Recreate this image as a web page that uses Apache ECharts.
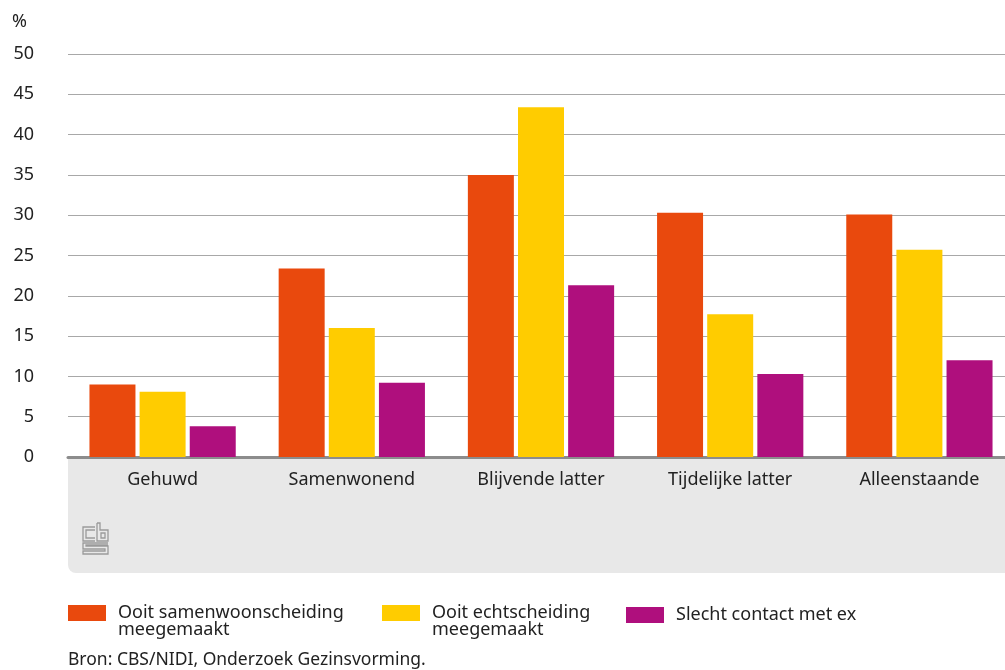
<!DOCTYPE html>
<html>
<head>
<meta charset="utf-8">
<script src="https://cdn.jsdelivr.net/npm/echarts@6/dist/echarts.min.js"></script>
<style>html,body{margin:0;padding:0;background:#fff;}#c{width:1005px;height:670px;}</style>
</head>
<body>
<div id="c"></div>
<script>
const categories = ['Gehuwd', 'Samenwonend', 'Blijvende latter', 'Tijdelijke latter', 'Alleenstaande'];
const seriesNames = ['Ooit samenwoonscheiding meegemaakt', 'Ooit echtscheiding meegemaakt', 'Slecht contact met ex'];
const legendLine1 = ['Ooit samenwoonscheiding', 'Ooit echtscheiding', 'Slecht contact met ex'];
const legendLine2 = ['meegemaakt', 'meegemaakt', ''];
const samenwoonscheiding = [9.0, 23.4, 35.0, 30.3, 30.1];
const echtscheiding = [8.1, 16.0, 43.4, 17.7, 25.7];
const slechtContact = [3.8, 9.2, 21.3, 10.3, 12.0];
const colors = ['#e9490d', '#ffcc00', '#af0f7d'];
const FONT = 'Noto Sans';
const FS = 18;

const chart = echarts.init(document.getElementById('c'), null, {renderer: 'canvas'});
const g = '#9a9a9a';
function pl(points){ return {type:'polyline', z:-5, shape:{points}, style:{stroke:g, lineWidth:1.3, fill:null}}; }
function legendAt(left, top, i){
  return {
    left, top, padding:0, orient:'horizontal', itemWidth:38, itemHeight:16, icon:'rect',
    data:[seriesNames[i]], selectedMode:false,
    formatter: () => legendLine1[i],
    textStyle:{fontFamily:FONT, fontSize:FS, color:'#222', padding:[0,0,0,7]}
  };
}
function line2(x, i){
  return {type:'text', x, y:630, style:{text:legendLine2[i], fontFamily:FONT, fontSize:FS, fill:'#222', verticalAlign:'middle'}};
}
chart.setOption({
  animation:false,
  color: colors,
  textStyle:{fontFamily:FONT},
  grid:{left:68, width:946, top:54, bottom:213, containLabel:false, outerBoundsMode:'none'},
  graphic:[
    {type:'rect', z:-10, shape:{x:68, y:457, width:937, height:116, r:[0,0,0,8]}, style:{fill:'#e8e8e8'}},
    {type:'text', left:12, top:13, style:{text:'%', fontFamily:FONT, fontSize:FS, fill:'#222'}},
    {type:'text', left:68, top:651, style:{text:'Bron: CBS/NIDI, Onderzoek Gezinsvorming.', fontFamily:FONT, fontSize:17.5, fill:'#222'}},
    line2(118, 0),
    line2(432, 1),
    // CBS logo (approximation)
    pl([[95,527],[83,527],[83,541],[95,541]]),
    pl([[95,530],[86,530],[86,538],[95,538]]),
    pl([[97,523],[100,523],[100,530],[108,530],[108,541],[97,541],[97,523]]),
    {type:'rect', z:-5, shape:{x:101, y:533, width:4, height:5}, style:{stroke:g, lineWidth:1.3, fill:null}},
    pl([[108,543],[83,543],[83,549],[105,549],[105,551],[83,551],[83,554],[108,554],[108,546],[86,546],[86,545],[108,545]]),
  ],
  legend:[
    legendAt(68, 604, 0),
    legendAt(382, 604, 1),
    legendAt(626, 606, 2)
  ],
  xAxis:{
    type:'category', data:categories,
    axisLine:{lineStyle:{color:'#8c8c8c', width:3}},
    axisTick:{show:false},
    axisLabel:{fontFamily:FONT, fontSize:FS, color:'#222', margin:14}
  },
  yAxis:{
    type:'value', min:0, max:50, interval:5,
    axisLine:{show:false}, axisTick:{show:false},
    axisLabel:{fontFamily:FONT, fontSize:FS, color:'#222', margin:34},
    splitLine:{lineStyle:{color:'#a8a8a8', width:1}}
  },
  series:[
    {name:seriesNames[0], type:'bar', data:samenwoonscheiding, barWidth:46, barGap:'9%'},
    {name:seriesNames[1], type:'bar', data:echtscheiding, barWidth:46, barGap:'9%'},
    {name:seriesNames[2], type:'bar', data:slechtContact, barWidth:46, barGap:'9%'}
  ]
});
</script>
</body>
</html>
